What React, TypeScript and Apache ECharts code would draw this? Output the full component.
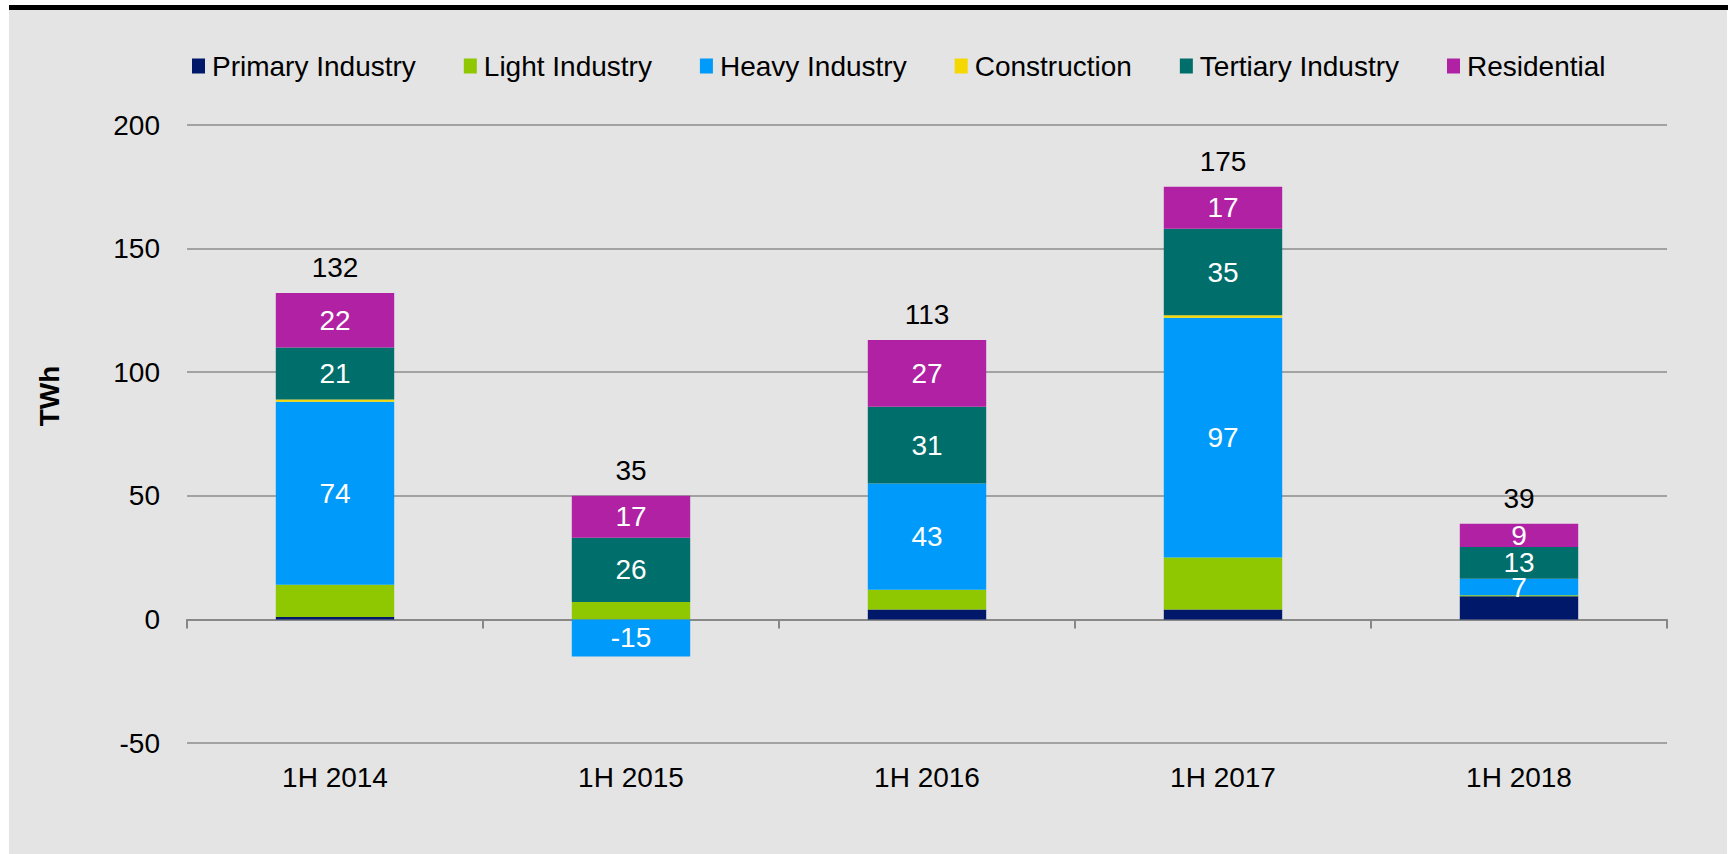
import React, { useEffect, useRef } from "react";
import * as echarts from "echarts";

const categories = ["1H 2014", "1H 2015", "1H 2016", "1H 2017", "1H 2018"];
const primaryIndustry = [1, 0, 4, 4, 9.4];
const lightIndustry = [13, 7, 8, 21, 0.4];
const heavyIndustry = [74, -15, 43, 97, 6.6];
const construction = [1, 0, 0, 1, 0];
const tertiaryIndustry = [21, 26, 31, 35, 12.9];
const residential = [22, 17, 27, 17, 9.4];
const totals = [132, 35, 113, 175, 39];
const yTicks = { min: -50, max: 200, interval: 50 };

const FONT = "'Liberation Sans', Arial, Helvetica, sans-serif";

const seriesDefs = [
  { name: "Primary Industry", data: primaryIndustry, color: "#00186a", label: false },
  { name: "Light Industry", data: lightIndustry, color: "#8fc800", label: false },
  { name: "Heavy Industry", data: heavyIndustry, color: "#009bfa", label: true },
  { name: "Construction", data: construction, color: "#f5d800", label: false },
  { name: "Tertiary Industry", data: tertiaryIndustry, color: "#006e6b", label: true },
  { name: "Residential", data: residential, color: "#b022a3", label: true },
];

export default function App() {
  const ref = useRef<HTMLDivElement>(null);

  useEffect(() => {
    if (!ref.current) return;
    const chart = echarts.init(ref.current, null, { renderer: "svg" });

    const tops = categories.map((_, i) =>
      seriesDefs.reduce((s, d) => s + Math.max(0, d.data[i]), 0)
    );

    const barSeries = seriesDefs.map((d) => ({
      name: d.name,
      type: "bar",
      stack: "total",
      barWidth: "40%",
      data: d.data,
      itemStyle: { color: d.color },
      label: {
        show: d.label,
        position: "inside",
        color: "#ffffff",
        fontSize: 28,
        fontFamily: FONT,
        formatter: (p: any) => String(Math.round(p.value)),
      },
    }));

    chart.setOption({
      animation: false,
      backgroundColor: "transparent",
      textStyle: { fontFamily: FONT },
      legend: {
        data: seriesDefs.map((d) => d.name),
        left: 187,
        top: 47,
        icon: "rect",
        itemWidth: 13,
        itemHeight: 15,
        itemGap: 48,
        textStyle: { fontSize: 28, color: "#000", fontFamily: FONT, padding: [0, 0, 0, 2] },
      },
      grid: { left: 187, right: 61, top: 125, bottom: 111, containLabel: false, outerBoundsMode: "none" },
      xAxis: {
        type: "category",
        data: categories,
        axisLine: { onZero: true, lineStyle: { color: "#888888", width: 2 } },
        axisTick: { show: true, length: 9, lineStyle: { color: "#888888", width: 2 } },
        axisLabel: { margin: 20, fontSize: 28, color: "#000", fontFamily: FONT },
      },
      yAxis: {
        type: "value",
        min: yTicks.min,
        max: yTicks.max,
        interval: yTicks.interval,
        axisLine: { show: false },
        axisTick: { show: false },
        axisLabel: { margin: 27, fontSize: 28, color: "#000", fontFamily: FONT },
        splitLine: { lineStyle: { color: "#8c8c8c", width: 1.5 } },
      },
      graphic: [
        {
          type: "text",
          x: 49,
          y: 396,
          rotation: Math.PI / 2,
          style: {
            text: "TWh",
            fontSize: 28,
            fontWeight: "bold",
            fontFamily: FONT,
            fill: "#000",
            textAlign: "center",
            textVerticalAlign: "middle",
          },
        },
      ],
      series: [
        ...barSeries,
        {
          name: "Total",
          type: "line",
          data: tops,
          symbol: "circle",
          symbolSize: 1,
          showSymbol: true,
          itemStyle: { color: "rgba(0,0,0,0)" },
          lineStyle: { width: 0, opacity: 0 },
          silent: true,
          z: 5,
          label: {
            show: true,
            position: "top",
            distance: 11,
            color: "#000",
            fontSize: 28,
            fontFamily: FONT,
            formatter: (p: any) => String(totals[p.dataIndex]),
          },
        },
      ],
    });

    return () => chart.dispose();
  }, []);

  return (
    <div style={{ position: "absolute", left: 0, top: 0, width: 1728, height: 854, background: "#ffffff" }}>
      <div style={{ position: "absolute", left: 9, top: 10, width: 1718, height: 844, background: "#e4e4e4" }} />
      <div style={{ position: "absolute", left: 9, top: 5, width: 1719, height: 5, background: "#000000" }} />
      <div ref={ref} style={{ position: "absolute", left: 0, top: 0, width: 1728, height: 854 }} />
    </div>
  );
}
